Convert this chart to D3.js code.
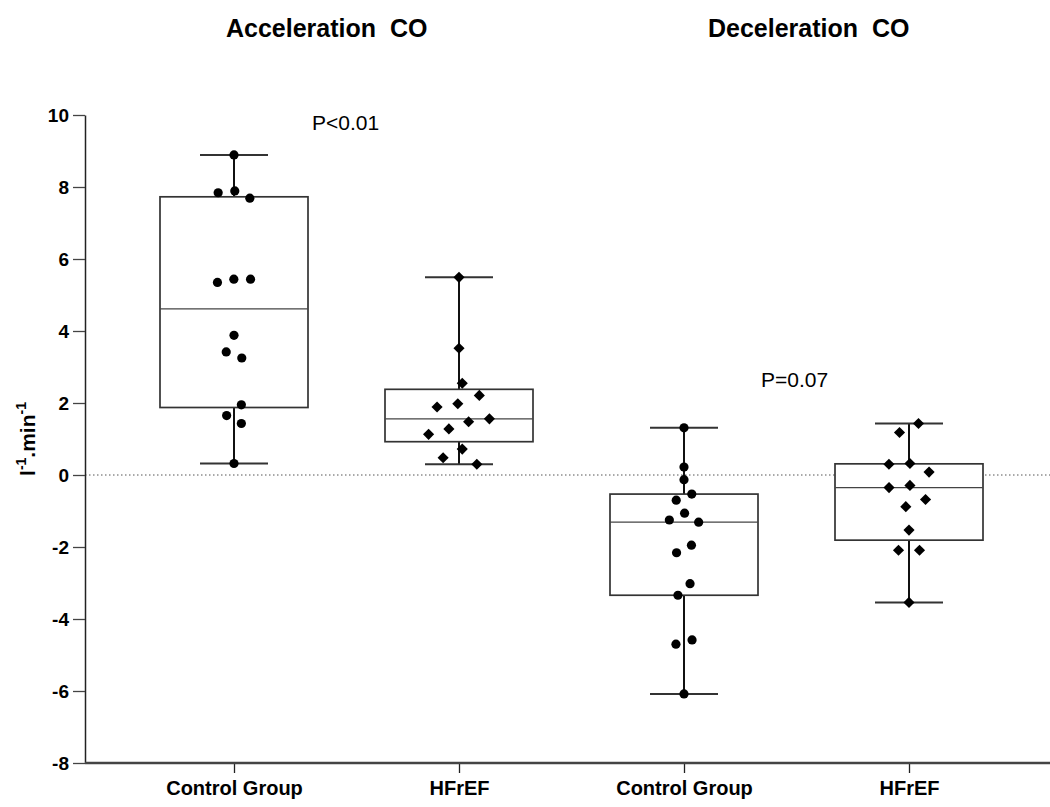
<!DOCTYPE html>
<html>
<head>
<meta charset="utf-8">
<script src="https://cdn.jsdelivr.net/npm/d3@7"></script>
<style>
  body { margin: 0; background: #fff; }
  text { font-family: "Liberation Sans", Arial, sans-serif; }
</style>
</head>
<body>
<svg id="chart" width="1050" height="807"></svg>
<script>
// data (l-1.min-1)
var groupIds = ["accControl", "accHfref", "decControl", "decHfref"];
var groupLabels = ["Control Group", "HFrEF", "Control Group", "HFrEF"];
var groupMarkers = ["circle", "diamond", "circle", "diamond"];

var accControl = [8.89, 7.89, 7.84, 7.69, 5.44, 5.35, 5.44, 3.88, 3.25, 3.42, 1.95, 1.43, 1.65, 0.32];
var accHfref = [5.49, 3.52, 2.55, 1.98, 2.21, 1.89, 1.48, 1.56, 1.28, 1.13, 0.72, 0.48, 0.30];
var decControl = [1.31, 0.22, -0.13, -0.53, -0.70, -1.06, -1.25, -1.31, -1.95, -2.16, -3.02, -3.34, -4.58, -4.70, -6.08];
var decHfref = [1.43, 1.18, 0.32, 0.30, 0.08, -0.29, -0.35, -0.68, -0.88, -1.53, -2.09, -2.09, -3.54];
var groupValues = [accControl, accHfref, decControl, decHfref];

var panelTitles = ["Acceleration  CO", "Deceleration  CO"];
var pLabels = ["P<0.01", "P=0.07"];
var pValueY = [9.58, 2.45];
var yTicks = [-8, -6, -4, -2, 0, 2, 4, 6, 8, 10];

var svg = d3.select("#chart");

var plotLeft = 85, plotTop = 115, plotBottom = 763, plotRight = 1050;

var y = d3.scaleLinear().domain([-8, 10]).range([plotBottom, plotTop]);
var x = d3.scalePoint().domain(groupIds).range([234, 909]);

var boxHalf = 74, capHalf = 34;

// GraphPad style quartiles, position (n+1)p
function quart(sorted, p) {
  var pos = (sorted.length + 1) * p;
  var lo = Math.floor(pos), frac = pos - lo;
  if (lo < 1) return sorted[0];
  if (lo >= sorted.length) return sorted[sorted.length - 1];
  return sorted[lo - 1] + frac * (sorted[lo] - sorted[lo - 1]);
}

// beeswarm: each point goes to the free offset closest to the centre,
// then each run of touching points is centred on the category line
function swarm(values, diam) {
  var placed = [];
  values.forEach(function(v) {
    var py = y(v);
    var cands = [0];
    placed.forEach(function(p) {
      var dy = Math.abs(p.y - py);
      if (dy < diam) {
        var dx = Math.sqrt(diam * diam - dy * dy);
        cands.push(p.x - dx, p.x + dx);
      }
    });
    cands.sort(function(a, b) { return Math.abs(a) - Math.abs(b) || a - b; });
    var best = cands.find(function(c) {
      return placed.every(function(p) {
        var dx = p.x - c, dy = p.y - py;
        return dx * dx + dy * dy >= diam * diam - 0.01;
      });
    });
    placed.push({x: best, y: py, v: v});
  });

  var sorted = placed.slice().sort(function(a, b) { return a.y - b.y; });
  var run = [sorted[0]];
  function flush() {
    var ext = d3.extent(run, function(p) { return p.x; });
    var shift = (ext[0] + ext[1]) / 2;
    run.forEach(function(p) { p.x -= shift; });
  }
  for (var i = 1; i < sorted.length; i++) {
    if (sorted[i].y - sorted[i - 1].y < diam * 0.75) {
      run.push(sorted[i]);
    } else {
      flush();
      run = [sorted[i]];
    }
  }
  flush();
  return placed;
}

// zero line
svg.append("line")
  .attr("x1", plotLeft).attr("x2", plotRight)
  .attr("y1", y(0)).attr("y2", y(0))
  .attr("stroke", "#555")
  .attr("stroke-width", 1)
  .attr("stroke-dasharray", "1.5,2.5");

groupIds.forEach(function(id, i) {
  var vals = groupValues[i].slice().sort(d3.ascending);
  var q1 = quart(vals, 0.25), med = quart(vals, 0.5), q3 = quart(vals, 0.75);
  var lo = vals[0], hi = vals[vals.length - 1];
  var cx = x(id);
  var g = svg.append("g").attr("class", "box");

  g.append("line")
    .attr("x1", cx).attr("x2", cx)
    .attr("y1", y(hi)).attr("y2", y(lo))
    .attr("stroke", "#111").attr("stroke-width", 2);
  [hi, lo].forEach(function(v) {
    g.append("line")
      .attr("x1", cx - capHalf).attr("x2", cx + capHalf)
      .attr("y1", y(v)).attr("y2", y(v))
      .attr("stroke", "#333").attr("stroke-width", 2);
  });
  g.append("rect")
    .attr("x", cx - boxHalf).attr("width", boxHalf * 2)
    .attr("y", y(q3)).attr("height", y(q1) - y(q3))
    .attr("fill", "#fff")
    .attr("stroke", "#333").attr("stroke-width", 1.7);
  g.append("line")
    .attr("x1", cx - boxHalf).attr("x2", cx + boxHalf)
    .attr("y1", y(med)).attr("y2", y(med))
    .attr("stroke", "#444").attr("stroke-width", 1.4);

  var isDiamond = groupMarkers[i] === "diamond";
  var pts = swarm(groupValues[i], isDiamond ? 21 : 16.7);
  if (isDiamond) {
    g.selectAll(".pt").data(pts).enter().append("path")
      .attr("class", "pt")
      .attr("d", d3.symbol(d3.symbolSquare, 62))
      .attr("transform", function(d) { return "translate(" + (cx + d.x) + "," + d.y + ") rotate(45)"; })
      .attr("fill", "#000");
  } else {
    g.selectAll(".pt").data(pts).enter().append("circle")
      .attr("class", "pt")
      .attr("cx", function(d) { return cx + d.x; })
      .attr("cy", function(d) { return d.y; })
      .attr("r", 4.6)
      .attr("fill", "#000");
  }
});

// y axis
var yAxis = svg.append("g")
  .attr("transform", "translate(" + plotLeft + ",0)")
  .call(d3.axisLeft(y).tickValues(yTicks).tickSize(12).tickPadding(4).tickSizeOuter(0)
    .tickFormat(function(d) { return String(d); }));
yAxis.select(".domain").attr("stroke", "#222").attr("stroke-width", 1.5);
yAxis.selectAll(".tick line").attr("stroke", "#444").attr("stroke-width", 1.3);
yAxis.selectAll(".tick text")
  .attr("font-size", 19).attr("font-weight", "bold").attr("fill", "#000")
  .attr("font-family", "Liberation Sans, Arial, sans-serif");

// x axis
var xAxis = svg.append("g")
  .attr("transform", "translate(0," + plotBottom + ")")
  .call(d3.axisBottom(x).tickSize(10).tickPadding(8).tickFormat(function(d, i) { return groupLabels[i]; }));
xAxis.select(".domain").remove();
xAxis.append("line")
  .attr("x1", plotLeft).attr("x2", plotRight)
  .attr("stroke", "#444").attr("stroke-width", 2.5);
xAxis.selectAll(".tick line").attr("stroke", "#222").attr("stroke-width", 1.3);
xAxis.selectAll(".tick text")
  .attr("font-size", 20).attr("font-weight", "bold").attr("fill", "#000")
  .attr("font-family", "Liberation Sans, Arial, sans-serif");

// y label
svg.append("text")
  .attr("transform", "translate(35," + ((plotTop + plotBottom) / 2) + ") rotate(-90)")
  .attr("text-anchor", "middle")
  .attr("font-size", 21).attr("font-weight", "bold")
  .call(function(t) {
    t.append("tspan").text("l");
    t.append("tspan").attr("font-size", 14).attr("dy", -9).text("-1");
    t.append("tspan").attr("dy", 9).text(".min");
    t.append("tspan").attr("font-size", 14).attr("dy", -9).text("-1");
  });

// panel titles
var titleX = [226, 708];
panelTitles.forEach(function(t, i) {
  svg.append("text")
    .attr("x", titleX[i]).attr("y", 37)
    .attr("font-size", 25).attr("font-weight", "bold")
    .style("white-space", "pre")
    .text(t);
});

// p values
var pX = [312, 761];
pLabels.forEach(function(t, i) {
  svg.append("text")
    .attr("x", pX[i]).attr("y", y(pValueY[i]))
    .attr("font-size", 21)
    .text(t);
});
</script>
</body>
</html>
